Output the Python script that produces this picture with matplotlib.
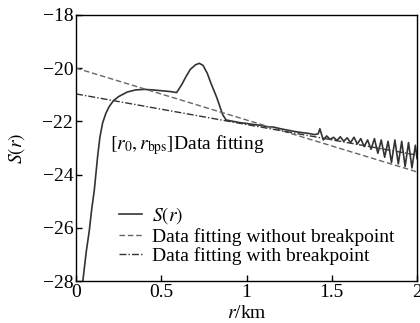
import matplotlib
matplotlib.use("Agg")
import matplotlib.pyplot as plt
import numpy as np

plt.rcParams.update({
    "font.family": "Liberation Serif",
    "mathtext.fontset": "stix",
    "font.size": 14,
    "axes.linewidth": 1.0,
})

# measured structure function S(r), r in km
r_obs = [0.030, 0.040, 0.060, 0.078, 0.092, 0.107, 0.127, 0.140, 0.156, 0.175, 0.194,
         0.22, 0.25, 0.30, 0.35, 0.40, 0.45, 0.50, 0.55, 0.59, 0.62, 0.645, 0.67, 0.70,
         0.723, 0.745, 0.77, 0.79, 0.825, 0.86, 0.88, 0.92, 0.96, 1.00, 1.04, 1.08, 1.12,
         1.16, 1.20, 1.24, 1.28, 1.32, 1.36, 1.40, 1.42, 1.43, 1.45, 1.47, 1.49, 1.51,
         1.53, 1.55, 1.57, 1.59, 1.61, 1.63, 1.65, 1.67, 1.69, 1.71, 1.73, 1.75, 1.77,
         1.79, 1.81, 1.83, 1.85, 1.87, 1.89, 1.91, 1.93, 1.95, 1.97, 1.99, 2.00]
s_obs = [-28.6, -28.0, -26.9, -26.1, -25.3, -24.6, -23.3, -22.6, -22.06, -21.7, -21.45,
         -21.22, -21.07, -20.90, -20.82, -20.80, -20.82, -20.85, -20.88, -20.92, -20.62,
         -20.32, -20.05, -19.88, -19.82, -19.90, -20.20, -20.55, -21.10, -21.75, -21.95,
         -22.00, -22.05, -22.08, -22.12, -22.15, -22.20, -22.22, -22.28, -22.33, -22.38,
         -22.42, -22.45, -22.50, -22.47, -22.28, -22.70, -22.55, -22.68, -22.60, -22.72,
         -22.58, -22.75, -22.62, -22.80, -22.60, -22.85, -22.65, -22.95, -22.70, -23.05,
         -22.65, -23.20, -22.70, -23.35, -22.75, -23.55, -22.70, -23.60, -22.75, -23.70,
         -22.80, -23.75, -22.90, -23.40]

# linear fits: intercept and slope
fit_nobreak = (-20.0, -1.95)
fit_break = (-20.97, -1.15)
r_fit = [0.0, 2.0]

fig = plt.figure(figsize=(4.2, 3.23), dpi=100)
ax = fig.add_axes([0.181, 0.130, 0.812, 0.824])

ax.plot(r_obs, s_obs, "-", color="#333333", lw=1.2, label=r"$S(r)$")
ax.plot(r_fit, [fit_nobreak[0] + fit_nobreak[1] * x for x in r_fit], "--",
        color="#666666", lw=1.0, dashes=(4, 2), label="Data fitting without breakpoint")
ax.plot(r_fit, [fit_break[0] + fit_break[1] * x for x in r_fit], "-.",
        color="#333333", lw=1.0, dashes=(5, 1.5, 1, 1.5), label="Data fitting with breakpoint")

ax.text(0.20, -22.89, r"$[r_0,r_{\rm bps}]$Data fitting", va="center", ha="left")

ax.set_xlim(0, 2)
ax.set_ylim(-28, -18)
ax.set_xticks([0, 0.5, 1, 1.5, 2], ["0", "0.5", "1", "1.5", "2"])
ax.set_yticks(np.arange(-28, -17, 2))
ax.tick_params(direction="in", length=4, width=1, top=False, right=False, pad=2)
ax.set_xlabel(r"$r$/km", labelpad=3)
ax.set_ylabel(r"$S(r)$", labelpad=11)

ax.legend(loc="upper left", bbox_to_anchor=(0.125, 0.285), frameon=False,
          handlelength=1.2, handletextpad=0.5, labelspacing=0.08, borderpad=0,
          borderaxespad=0)

fig.savefig("out.png", dpi=100)
